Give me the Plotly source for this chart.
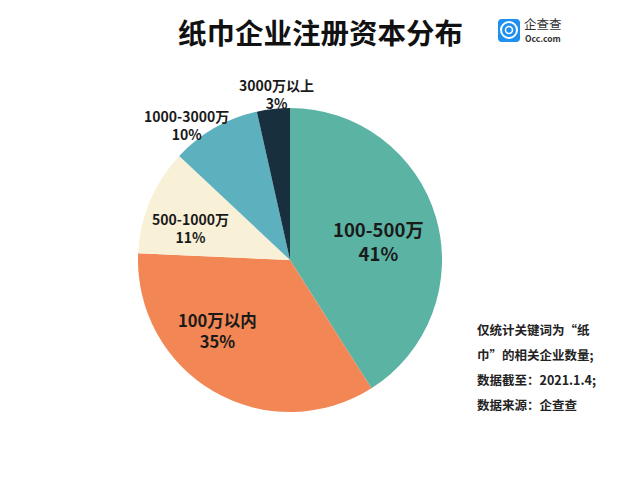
import plotly.graph_objects as go

categories = ["100-500万", "100万以内", "500-1000万", "1000-3000万", "3000万以上"]
shares = [41, 35, 11, 10, 3]  # as printed on the labels
arc_sizes = [41.0, 34.7, 11.3, 9.5, 3.5]
colors = ["#5AB3A3", "#F28654", "#F8F1D8", "#5DB1BF", "#182F3E"]
note_lines = ["仅统计关键词为“纸", "巾”的相关企业数量;", "数据截至：2021.1.4;", "数据来源：企查查"]

W = 640
H = 480
FONT = "Noto Sans CJK SC"
PAGE_MARGIN = 8  # the browser's body margin pushes the plot right and down


def px(x):
    return (x - PAGE_MARGIN) / W


def py(y):
    return 1 - (y - PAGE_MARGIN) / H


fig = go.Figure(go.Pie(
    labels=categories, values=arc_sizes, sort=False, direction="clockwise", rotation=0,
    marker=dict(colors=colors, line=dict(width=0)), textinfo="none", showlegend=False,
    domain=dict(x=[px(138), px(442)], y=[py(412), py(108)]),
))

annotations = [
    dict(text="<b>纸巾企业注册资本分布</b>", x=320, y=31, size=28.5, color="#111111"),
    dict(text="<b>" + categories[0] + "</b><br><b>" + str(shares[0]) + "%</b>", x=378, y=241, size=18.5, color="#1a1a1a"),
    dict(text="<b>" + categories[1] + "</b><br><b>" + str(shares[1]) + "%</b>", x=217, y=330, size=16.5, color="#1a1a1a"),
    dict(text="<b>" + categories[2] + "</b><br><b>" + str(shares[2]) + "%</b>", x=190, y=228, size=14, color="#1a1a1a"),
    dict(text="<b>" + categories[3] + "</b><br><b>" + str(shares[3]) + "%</b>", x=186, y=125, size=14, color="#1a1a1a"),
    dict(text="<b>" + categories[4] + "</b><br><b>" + str(shares[4]) + "%</b>", x=276, y=94, size=14, color="#1a1a1a"),
    dict(text="企查查", x=543, y=24, size=12.5, color="#333333"),
    dict(text="<b>Occ.com</b>", x=543, y=38, size=8.5, color="#333333"),
]
for a in annotations:
    fig.add_annotation(text=a["text"], x=px(a["x"]), y=py(a["y"]), xref="paper", yref="paper",
                       showarrow=False, font=dict(family=FONT, size=a["size"], color=a["color"]),
                       xanchor="center", yanchor="middle", align="center")

# footnote, one annotation per row to get the wide line spacing
for i, line in enumerate(note_lines):
    fig.add_annotation(text="<b>" + line + "</b>", x=px(475), y=py(329 + i * 25), xref="paper", yref="paper",
                       showarrow=False, font=dict(family=FONT, size=12.5, color="#222222"),
                       xanchor="left", yanchor="middle", align="left")

# logo tile
fig.add_shape(type="path", xref="paper", yref="paper",
              path=f"M {px(502)} {py(19)} L {px(516)} {py(19)} Q {px(520)} {py(19)} {px(520)} {py(23)} "
                   f"L {px(520)} {py(38)} Q {px(520)} {py(42)} {px(516)} {py(42)} L {px(502)} {py(42)} "
                   f"Q {px(498)} {py(42)} {px(498)} {py(38)} L {px(498)} {py(23)} Q {px(498)} {py(19)} {px(502)} {py(19)} Z",
              fillcolor="#1E90F0", line=dict(width=0))
fig.add_shape(type="circle", xref="paper", yref="paper", x0=px(501), x1=px(517), y0=py(38), y1=py(22),
              fillcolor="rgba(0,0,0,0)", line=dict(color="white", width=2))
fig.add_shape(type="circle", xref="paper", yref="paper", x0=px(505.5), x1=px(512.5), y0=py(33.5), y1=py(26.5),
              fillcolor="rgba(0,0,0,0)", line=dict(color="white", width=1.5))

fig.update_layout(width=W, height=H, margin=dict(l=0, r=0, t=0, b=0), paper_bgcolor="white",
                  font=dict(family=FONT))

fig.write_html("out.html")
